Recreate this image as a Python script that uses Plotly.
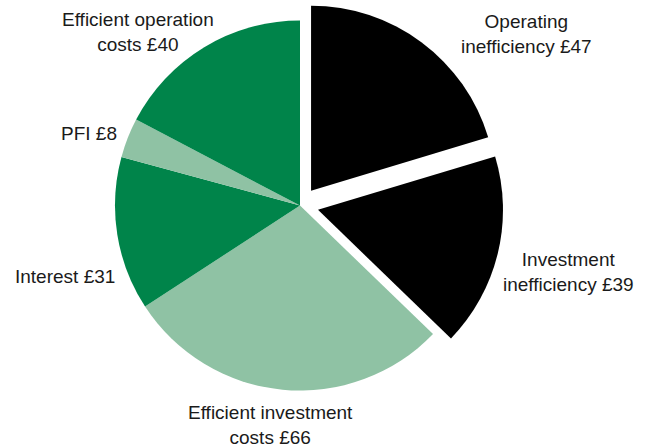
import plotly.graph_objects as go

# Cost breakdown (£), clockwise from 12 o'clock
categories = [
    "Operating<br>inefficiency",
    "Investment<br>inefficiency",
    "Efficient investment<br>costs",
    "Interest",
    "PFI",
    "Efficient operation<br>costs",
]
values = [47, 39, 66, 31, 8, 40]
colors = ["#000000", "#000000", "#8fc2a4", "#00844a", "#8fc2a4", "#00844a"]
pulls = [0.1, 0.1, 0, 0, 0, 0]

# label anchor points in paper coordinates
label_x = [0.807, 0.870, 0.414, 0.100, 0.137, 0.212]
label_y = [0.925, 0.393, 0.052, 0.382, 0.703, 0.929]

W, H = 653, 448

fig = go.Figure(
    go.Pie(
        labels=categories,
        values=values,
        sort=False,
        direction="clockwise",
        rotation=0,
        pull=pulls,
        marker=dict(colors=colors, line=dict(width=0)),
        textinfo="none",
        hoverinfo="skip",
        showlegend=False,
        domain=dict(x=[96.5 / W, 503.5 / W], y=[1 - 409.0 / H, 1 - 2.0 / H]),
    )
)

for cat, val, x, y in zip(categories, values, label_x, label_y):
    fig.add_annotation(
        x=x, y=y, xref="paper", yref="paper",
        text=f"{cat} £{val}",
        showarrow=False,
        align="center",
        xanchor="center", yanchor="middle",
        font=dict(family="Liberation Sans, Arial, sans-serif", size=19, color="#1a1a1a"),
    )

fig.update_layout(
    width=W, height=H,
    margin=dict(l=0, r=0, t=0, b=0),
    paper_bgcolor="white",
    plot_bgcolor="white",
)

fig.write_html("out.html")
